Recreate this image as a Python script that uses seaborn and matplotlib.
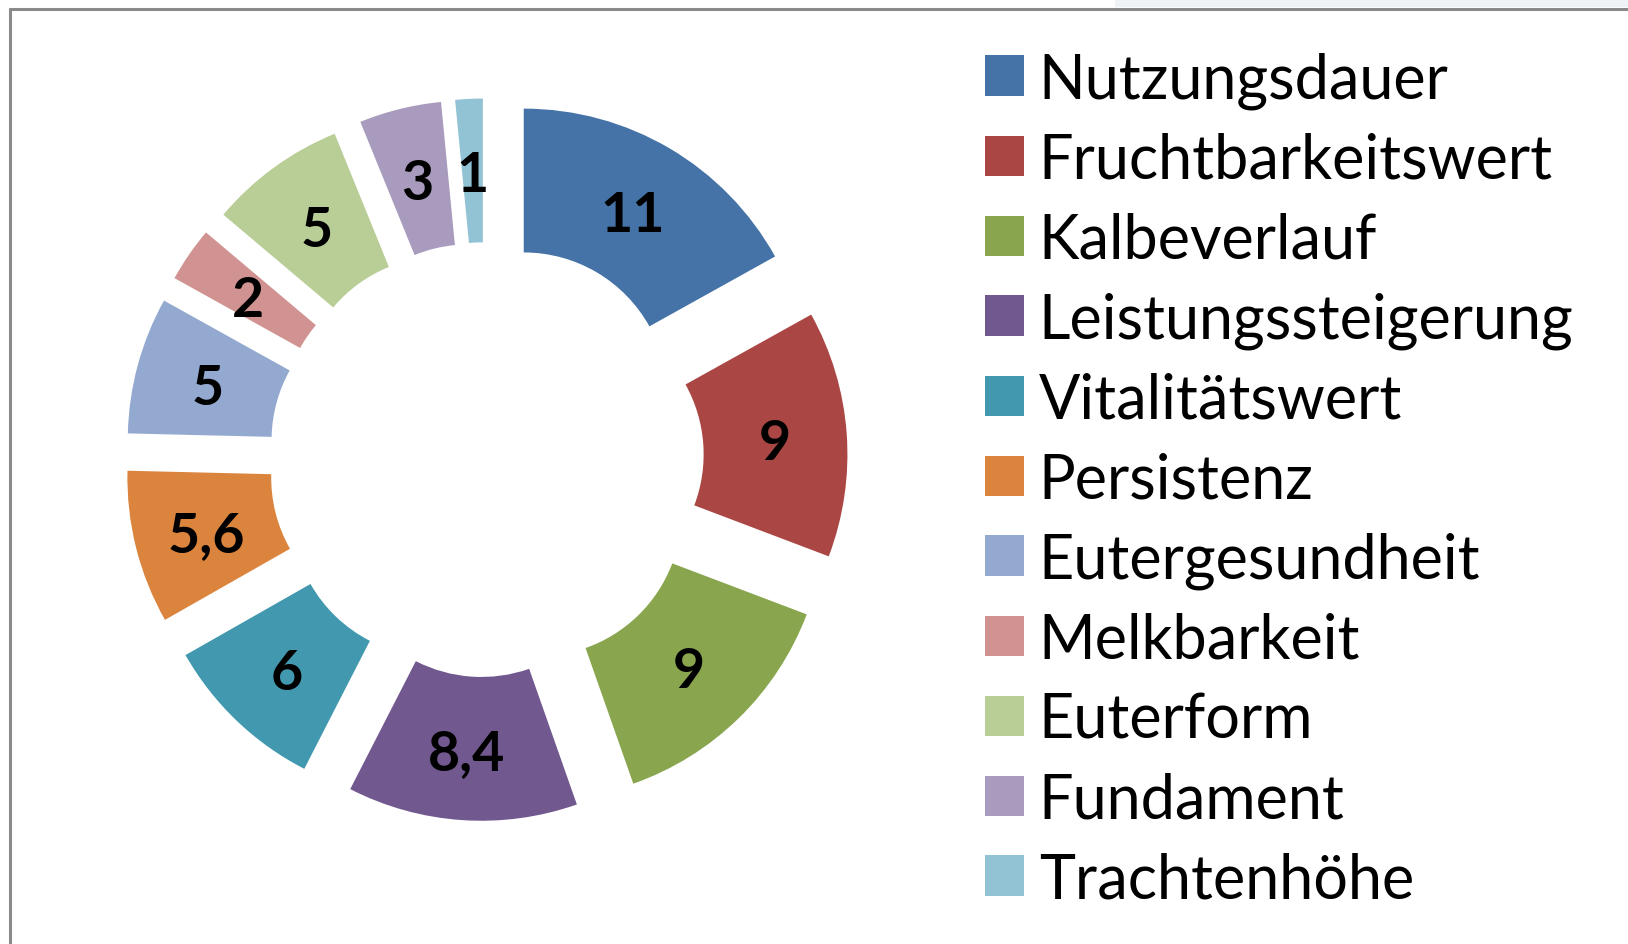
"""Donut chart (exploded) of breeding trait weights, Excel-2007 look."""

import matplotlib
matplotlib.use('Agg')
import matplotlib.pyplot as plt
from matplotlib.lines import Line2D
from matplotlib.patches import Rectangle
import seaborn as sns


CATEGORIES = ['Nutzungsdauer', 'Fruchtbarkeitswert', 'Kalbeverlauf',
              'Leistungssteigerung', 'Vitalitätswert', 'Persistenz',
              'Eutergesundheit', 'Melkbarkeit', 'Euterform', 'Fundament',
              'Trachtenhöhe']
VALUES = [11, 9, 9, 8.4, 6, 5.6, 5, 2, 5, 3, 1]
VALUE_LABELS = ['11', '9', '9', '8,4', '6', '5,6', '5', '2', '5', '3', '1']
COLORS = ['#4572A7', '#AA4643', '#89A54E', '#71588F', '#4198AF', '#DB843D',
          '#93A9CF', '#D19392', '#B9CD96', '#A99BBD', '#92C3D4']

W, H = 1628, 945
FONT = ['Lato', 'DejaVu Sans']


def main():
    sns.set_theme(style='white')
    plt.rcParams['font.family'] = FONT
    plt.rcParams['text.color'] = 'black'

    fig = plt.figure(figsize=(W / 100, H / 100), dpi=100)

    # donut centre / radius in pixels
    cx, cy, rad = 486.4, H - 460.7, 287.6
    lim = 1.4
    side = 2 * lim * rad
    ax = fig.add_axes([(cx - side / 2) / W, (cy - side / 2) / H, side / W, side / H])

    wedges, texts = ax.pie(
        VALUES, labels=VALUE_LABELS, colors=COLORS, startangle=90,
        counterclock=False, explode=[0.256] * len(VALUES),
        labeldistance=0.75, wedgeprops=dict(width=0.5, linewidth=0),
        textprops=dict(fontsize=40, fontweight='bold', color='black'))
    for t in texts:
        t.set_ha('center')
        t.set_va('center_baseline')
    ax.set_xlim(-lim, lim)
    ax.set_ylim(-lim, lim)
    ax.set_aspect('equal')
    ax.axis('off')

    leg = fig.legend(wedges, CATEGORIES, loc='upper left',
                     bbox_to_anchor=(985 / W, 1 - 52 / H), frameon=False,
                     fontsize=44, handlelength=0.64, handleheight=0.64,
                     handletextpad=0.24, labelspacing=0.374, borderpad=0,
                     borderaxespad=0)
    for t in leg.get_texts():
        t.set_color('black')

    # chart frame (top and left edges visible) and faint strip top right
    fig.add_artist(Rectangle((1115 / W, 1 - 8 / H), 1 - 1115 / W, 8 / H,
                             transform=fig.transFigure, color='#eef3f7', lw=0))
    fig.add_artist(Line2D([9.5 / W, 1], [1 - 9.5 / H] * 2, transform=fig.transFigure,
                          color='#8a8a8a', lw=2.2))
    fig.add_artist(Line2D([9.5 / W] * 2, [0, 1 - 9.5 / H], transform=fig.transFigure,
                          color='#8a8a8a', lw=2.2))

    fig.savefig('out.png', dpi=100)
    plt.close(fig)


if __name__ == '__main__':
    main()
